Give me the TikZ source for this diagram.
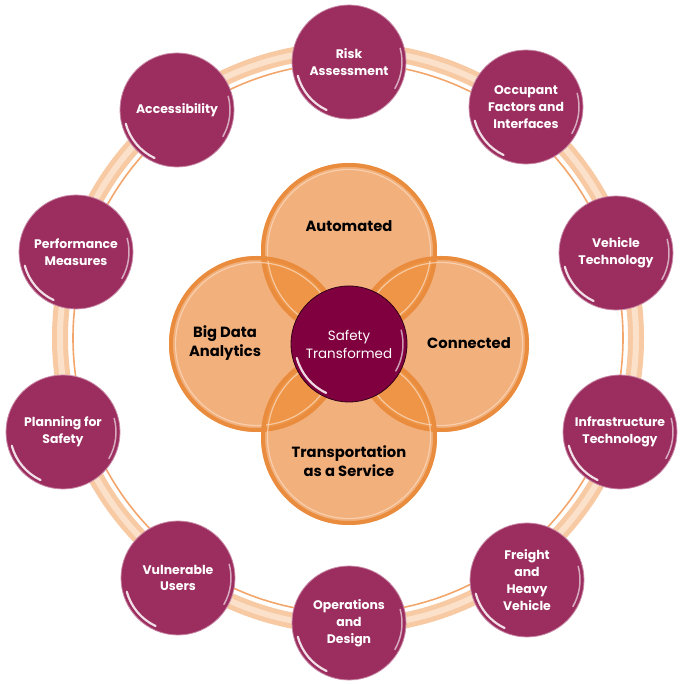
\documentclass[tikz,border=0pt]{standalone}
\usepackage{fontspec}
\setmainfont{Poppins}
\definecolor{plum}{HTML}{9B2D5F}
\definecolor{plumrim}{HTML}{C98AA6}
\definecolor{core}{HTML}{80003F}
\definecolor{ofill}{HTML}{F2B07D}
\definecolor{orim}{HTML}{EA8C3E}
\definecolor{olap}{HTML}{EE9547}
\definecolor{ohl}{HTML}{FAD6B8}
\definecolor{band}{HTML}{F7CAA4}
\definecolor{bandhl}{HTML}{FBE0CA}
\definecolor{bandline}{HTML}{F2A66C}
\newcommand\glassy[2]{%
  \draw[white, opacity=0.85, line width=2.2bp, line cap=round]
    ([shift={(195:#2)}]#1.center) arc[start angle=195, end angle=245, radius=#2];
  \draw[white, opacity=0.6, line width=1.5bp, line cap=round]
    ([shift={(-30:#2)}]#1.center) arc[start angle=-30, end angle=15, radius=#2];
}
\begin{document}
\begin{tikzpicture}[x=1bp,y=1bp,
  pcircle/.style={circle, fill=plum, draw=plumrim, line width=0.8bp, minimum size=114bp,
    inner sep=0pt, text=white, align=center, font=\fontsize{12.5}{16.8}\selectfont\bfseries},
  ocircle/.style={circle, fill=ofill, minimum size=176bp, inner sep=0pt},
  olabel/.style={align=center, text=black, font=\fontsize{14.8}{19}\selectfont\bfseries},
  corecircle/.style={circle, fill=core, draw=black!60!core, line width=0.8bp, minimum size=116bp,
    inner sep=0pt, text=white, align=center, font=\fontsize{13.5}{18}\selectfont},
]
\useasboundingbox (0,0) rectangle (684,684);
% ring
\draw[band, line width=16bp] (348,346) circle[radius=288];
\draw[bandhl, line width=6bp] (348,346) circle[radius=288];
\draw[bandline, line width=1.6bp] (348,346) circle[radius=275];
% orange circles
\node[ocircle] (auto) at (349,433) {};
\node[ocircle] (conn) at (441,340) {};
\node[ocircle] (big) at (257,340) {};
\node[ocircle] (taas) at (349,247) {};
\begin{scope}
  \clip (auto.center) circle[radius=88];
  \fill[olap] (conn.center) circle[radius=88];
  \fill[olap] (big.center) circle[radius=88];
\end{scope}
\begin{scope}
  \clip (taas.center) circle[radius=88];
  \fill[olap] (conn.center) circle[radius=88];
  \fill[olap] (big.center) circle[radius=88];
\end{scope}
\foreach \n in {auto,conn,big,taas}{
  \draw[orim, line width=4bp] (\n.center) circle[radius=86];
  \draw[ohl, line width=1.2bp, opacity=0.8] (\n.center) circle[radius=81.5];
}
\node[olabel] (tauto) at (349,458) {Automated};
\node[olabel] (tconn) at (469,341) {Connected};
\node[olabel] (tbig) at (225,341) {Big Data\\Analytics};
\node[olabel] (ttaas) at (349,223) {Transportation\\as a Service};
% core
\node[corecircle] (core) at (349,340) {Safety\\Transformed};
\glassy{core}{54}
% outer circles
\node[pcircle] (risk) at (349,622) {Risk\\Assessment};
\node[pcircle] (occ) at (526,577) {Occupant\\Factors and\\Interfaces};
\node[pcircle] (veh) at (616,431) {Vehicle\\Technology};
\node[pcircle] (infra) at (620,252) {Infrastructure\\Technology};
\node[pcircle] (freight) at (527,104) {Freight\\and\\Heavy\\Vehicle};
\node[pcircle] (ops) at (349,61) {Operations\\and\\Design};
\node[pcircle] (vul) at (178,106) {Vulnerable\\Users};
\node[pcircle] (plan) at (63,252) {Planning for\\Safety};
\node[pcircle] (perf) at (76,432) {Performance\\Measures};
\node[pcircle] (acc) at (177,574) {Accessibility};
\foreach \n in {risk,occ,veh,infra,freight,ops,vul,plan,perf,acc}{\glassy{\n}{53}}
\end{tikzpicture}
\end{document}
